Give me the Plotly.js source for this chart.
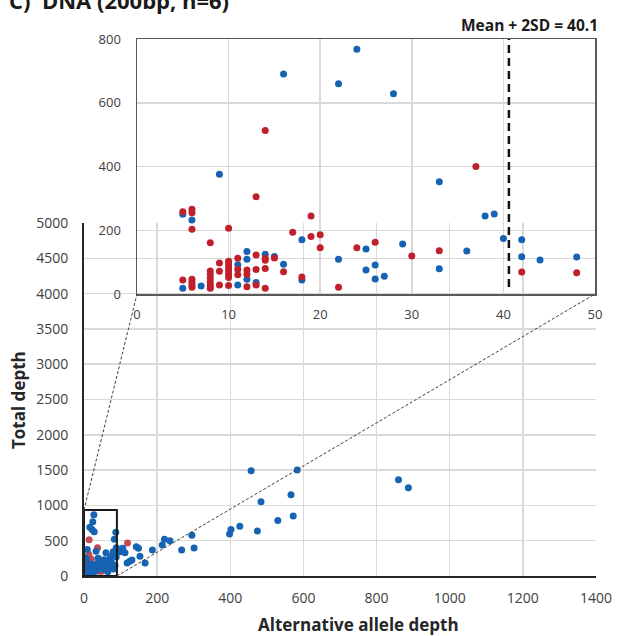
<!DOCTYPE html>
<html><head><meta charset="utf-8">
<script src="https://cdn.plot.ly/plotly-3.0.1.min.js"></script>
<style>html,body{margin:0;padding:0;background:#fff;} #chart{width:622px;height:636px;}</style>
</head><body><div id="chart"></div>
<script>
// ---- Data ----
// Points visible in the zoomed inset (x <= 50, y <= 800)
const insetBlueX = [5,5,6,7,9,11,11,12,12,12,13,14,15,16,16,18,18,22,22,24,25,25,26,26,27,28,29,33,33,36,38,39,40,42,42,44,48];
const insetBlueY = [250,18,232,25,376,92,28,133,109,46,36,125,118,690,93,170,44,660,109,768,141,75,91,47,56,628,157,352,79,135,245,251,174,170,117,107,116];
const insetRedX = [5,5,6,6,6,6,6,6,6,8,8,8,8,8,8,8,9,9,9,10,10,10,10,10,10,10,10,11,11,11,12,12,12,13,13,13,13,14,14,14,14,14,15,16,17,18,19,19,20,20,22,24,26,30,33,37,42,48];
const insetRedY = [258,44,266,255,203,46,36,28,21,161,72,61,49,37,26,18,97,71,28,206,103,93,83,73,62,52,27,112,78,60,75,62,23,305,122,77,28,513,112,106,80,18,113,70,194,53,245,180,186,145,21,145,162,119,136,400,69,67];
// Additional points only visible in the full-range chart
const extraBlueX = [27,55,60,66,71,75,78,80,83,85,87,62,70,88,53,58,65,80,88,98,100,106,112,118,125,131,143,149,153,167,187,214,220,235,267,295,301,398,402,426,457,474,484,530,566,572,583,860,887];
const extraBlueY = [868,230,330,203,250,190,297,344,520,150,620,120,160,270,160,90,60,100,400,344,378,392,330,185,210,225,415,392,280,185,368,440,520,500,368,576,397,595,660,705,1490,637,1050,785,1150,850,1500,1365,1250];
const extraRedX = [119];
const extraRedY = [468];
const threshold = 40.6;          // drawn position of the Mean + 2SD line
const thresholdLabel = 'Mean + 2SD = 40.1';
const zoomBoxX = 90, zoomBoxY = 935;

// ---- Layout geometry ----
const W = 622, H = 636;
const mL = 84, mR = 26, mT = 39, mB = 60;
const plotW = W - mL - mR, plotH = H - mT - mB;
const mainTopPx = 223, mainBotPx = H - mB;
const yDomMain = [0, (mainBotPx - mainTopPx) / plotH];
const insetL = 137, insetR = 595, insetT = 39, insetB = 294;
const xDom2 = [(insetL - mL) / plotW, (insetR - mL) / plotW];
const yDom2 = [(mainBotPx - insetB) / plotH, (mainBotPx - insetT) / plotH];

const BLUE = '#1763b3', RED = '#c0202b', RED_MAIN = '#c34a50';
const tickFont = {family: 'Open Sans, sans-serif', size: 14, color: '#404040'};
const tickFont2 = {family: 'Open Sans, sans-serif', size: 13, color: '#404040'};
const GRID = '#d9d9d9';

const traces = [
  {x: insetRedX.concat(extraRedX), y: insetRedY.concat(extraRedY), xaxis: 'x', yaxis: 'y',
   type: 'scatter', mode: 'markers', marker: {color: RED_MAIN, size: 7}, hoverinfo: 'skip'},
  {x: insetBlueX.concat(extraBlueX), y: insetBlueY.concat(extraBlueY), xaxis: 'x', yaxis: 'y',
   type: 'scatter', mode: 'markers', marker: {color: BLUE, size: 7}, hoverinfo: 'skip'},
  {x: insetBlueX, y: insetBlueY, xaxis: 'x2', yaxis: 'y2',
   type: 'scatter', mode: 'markers', marker: {color: BLUE, size: 7}, hoverinfo: 'skip'},
  {x: insetRedX, y: insetRedY, xaxis: 'x2', yaxis: 'y2',
   type: 'scatter', mode: 'markers', marker: {color: RED, size: 7}, hoverinfo: 'skip'}
];

const mainYTop = 5000;
const boxTopPaper = yDomMain[0] + (zoomBoxY / mainYTop) * (yDomMain[1] - yDomMain[0]);
const boxRightPaper = zoomBoxX / 1400;

const layout = {
  width: W, height: H, showlegend: false,
  margin: {l: mL, r: mR, t: mT, b: mB, pad: 0},
  paper_bgcolor: '#ffffff', plot_bgcolor: 'rgba(0,0,0,0)',
  font: {family: 'Open Sans, sans-serif', color: '#404040'},
  xaxis: {domain: [0, 1], anchor: 'y', range: [0, 1400], tick0: 0, dtick: 200,
    showgrid: true, gridcolor: GRID, gridwidth: 1.5, zeroline: false,
    showline: true, linecolor: '#262626', linewidth: 2, ticks: '',
    tickfont: tickFont, ticklabelstandoff: 8, fixedrange: true},
  yaxis: {domain: yDomMain, anchor: 'x', range: [0, mainYTop], tick0: 0, dtick: 500,
    showgrid: true, gridcolor: GRID, gridwidth: 1.5, zeroline: false,
    showline: true, linecolor: '#262626', linewidth: 2, ticks: '',
    tickfont: tickFont, ticklabelstandoff: 11, fixedrange: true},
  xaxis2: {domain: xDom2, anchor: 'y2', range: [0, 50], tick0: 0, dtick: 10,
    showgrid: true, gridcolor: GRID, gridwidth: 1.5, zeroline: false,
    showline: true, mirror: true, linecolor: '#595959', linewidth: 1.5, ticks: '',
    tickfont: tickFont2, ticklabelstandoff: 8, fixedrange: true},
  yaxis2: {domain: yDom2, anchor: 'x2', range: [0, 800], tick0: 0, dtick: 200,
    showgrid: true, gridcolor: GRID, gridwidth: 1.5, zeroline: false,
    showline: true, mirror: true, linecolor: '#595959', linewidth: 1.5, ticks: '',
    tickfont: tickFont2, ticklabelstandoff: 12, fixedrange: true},
  shapes: [
    {type: 'rect', xref: 'x', yref: 'y', x0: 0, x1: zoomBoxX, y0: 0, y1: zoomBoxY,
     line: {color: '#1a1a1a', width: 2}, layer: 'above'},
    {type: 'line', xref: 'paper', yref: 'paper', x0: 0, y0: boxTopPaper, x1: xDom2[0], y1: yDom2[0],
     line: {color: '#404040', width: 1, dash: '3px,2px'}},
    {type: 'line', xref: 'paper', yref: 'paper', x0: boxRightPaper, y0: 0, x1: xDom2[1], y1: yDom2[0],
     line: {color: '#404040', width: 1, dash: '3px,2px'}},
    {type: 'line', xref: 'x2', yref: 'y2', x0: threshold, x1: threshold, y0: 22, y1: 800,
     line: {color: '#111111', width: 2.5, dash: '8px,5px'}}
  ],
  annotations: [
    {text: '<b>C)  DNA (200bp, n=6)</b>', xref: 'paper', yref: 'paper', x: (7 - mL) / plotW, y: (mainBotPx - 0) / plotH,
     xanchor: 'left', yanchor: 'middle', showarrow: false, font: {size: 22, color: '#1a1a1a', family: 'Open Sans, sans-serif'}},
    {text: '<b>' + thresholdLabel + '</b>', xref: 'paper', yref: 'paper', x: (600 - mL) / plotW, y: (mainBotPx - 25) / plotH,
     xanchor: 'right', yanchor: 'middle', showarrow: false, font: {size: 15.5, color: '#1a1a1a', family: 'Open Sans, sans-serif'}},
    {text: '<b>Alternative allele depth</b>', xref: 'paper', yref: 'paper', x: (358 - mL) / plotW, y: (mainBotPx - 624) / plotH,
     xanchor: 'center', yanchor: 'middle', showarrow: false, font: {size: 17, color: '#262626', family: 'Open Sans, sans-serif'}},
    {text: '<b>Total depth</b>', xref: 'paper', yref: 'paper', x: (18 - mL) / plotW, y: (mainBotPx - 400) / plotH,
     xanchor: 'center', yanchor: 'middle', textangle: -90, showarrow: false, font: {size: 17, color: '#262626', family: 'Open Sans, sans-serif'}}
  ]
};

Plotly.newPlot('chart', traces, layout, {displayModeBar: false, staticPlot: true});
</script>
</body></html>
